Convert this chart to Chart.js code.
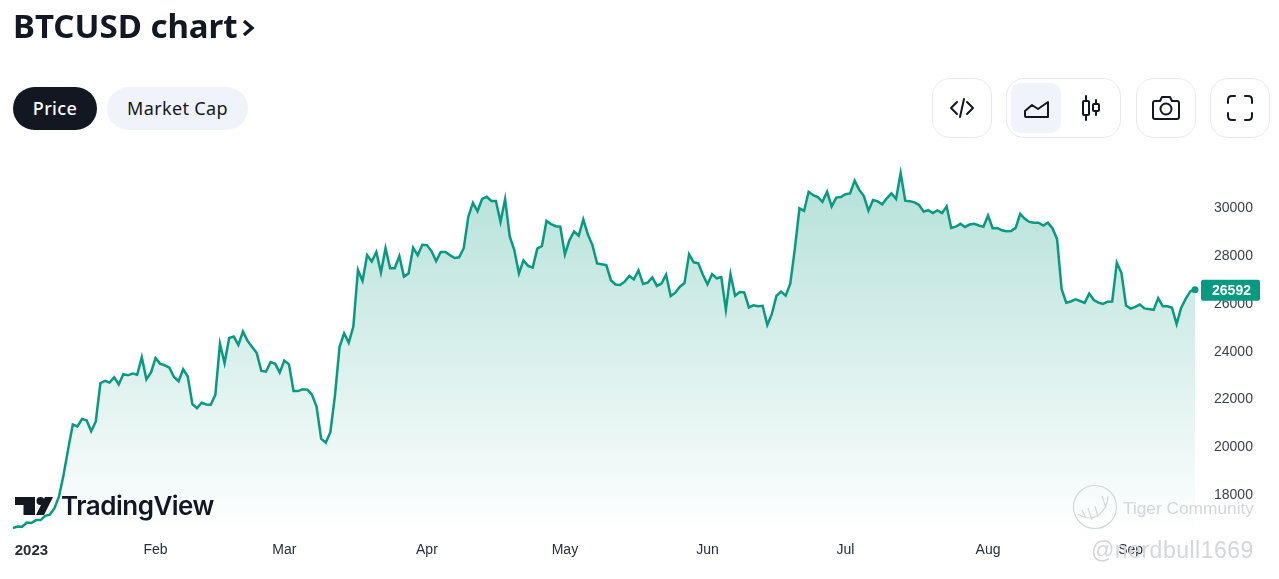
<!DOCTYPE html>
<html>
<head>
<meta charset="utf-8">
<title>BTCUSD chart</title>
<script src="https://cdn.jsdelivr.net/npm/chart.js@4/dist/chart.umd.min.js"></script>
<style>
    html, body { margin: 0; padding: 0; background: #fff; overflow: hidden; }
    #page { position: relative; width: 1279px; height: 579px; font-family: "Noto Sans", sans-serif; color: #131722; }
    #btcChart { position: absolute; left: 0; top: 0; }
    .title { position: absolute; left: 13px; top: 3px; font-size: 33px; font-weight: 700; line-height: 45px; white-space: nowrap; }
    .pill { position: absolute; top: 87px; height: 43px; line-height: 42px; border-radius: 22px; text-align: center; font-size: 18px; letter-spacing: 0.35px; }
    .pill-on { left: 13px; width: 84px; background: #131722; color: #fff; font-weight: 500; }
    .pill-off { left: 107px; width: 141px; background: #f0f3fa; }
    .btn { position: absolute; top: 78px; height: 58px; border: 1px solid #e6e8ee; border-radius: 18px; background: #fff; box-sizing: content-box; }
    .btn svg { position: absolute; fill: none; stroke: #131722; stroke-width: 2; stroke-linecap: round; stroke-linejoin: round; }
    .active-type { position: absolute; left: 4px; top: 4px; width: 50px; height: 50px; border-radius: 10px; background: #f0f3fa; }
    .tv-logo { position: absolute; left: 15px; top: 490px; }
    .tv-text { position: absolute; left: 61px; top: 487px; font-family: Inter, sans-serif; font-size: 26px; font-weight: 600; letter-spacing: -0.5px; line-height: 38px; }
    .mark { position: absolute; color: #d4d6da; white-space: nowrap; font-family: "Liberation Sans", sans-serif; }
</style>
</head>
<body>
<div id="page">
    <canvas id="btcChart" width="1279" height="579"></canvas>

    <div class="title">BTCUSD chart<svg width="13" height="24" viewBox="0 0 13 24" style="margin-left:4px;vertical-align:-2px"><path d="M2 5 L10 12 L2 19" fill="none" stroke="#131722" stroke-width="3.4"/></svg></div>
    <div class="pill pill-on">Price</div>
    <div class="pill pill-off">Market Cap</div>

    <div class="btn" style="left:932px;width:58px">
        <svg width="28" height="24" style="left:15px;top:17px" viewBox="0 0 28 24"><path d="M9 6 L3 12 L9 18 M19 6 L25 12 L19 18 M16 3 L12 21"/></svg>
    </div>
    <div class="btn" style="left:1006px;width:113px">
        <div class="active-type"></div>
        <svg width="28" height="20" style="left:15px;top:20px" viewBox="0 0 28 20"><path d="M3 12 L10 6 L16 10 L26 3 V18 H4 Q3 18 3 17 Z"/></svg>
        <svg width="22" height="26" style="left:73px;top:16px" viewBox="0 0 22 26"><path d="M6 1 V6 M6 20 V25 M16 5 V9 M16 16 V20"/><rect x="3" y="6" width="6" height="14" rx="1"/><rect x="13" y="9" width="6" height="7" rx="1"/></svg>
    </div>
    <div class="btn" style="left:1136px;width:58px">
        <svg width="30" height="26" style="left:14px;top:16px" viewBox="0 0 30 26"><path d="M4 6 H9 L11 2 H19 L21 6 H26 Q28 6 28 8 V22 Q28 24 26 24 H4 Q2 24 2 22 V8 Q2 6 4 6 Z"/><circle cx="15" cy="14" r="5.5"/></svg>
    </div>
    <div class="btn" style="left:1210px;width:58px">
        <svg width="28" height="28" style="left:15px;top:15px" viewBox="0 0 28 28"><path d="M2 9 V6 Q2 2 6 2 H9 M19 2 H22 Q26 2 26 6 V9 M26 19 V22 Q26 26 22 26 H19 M9 26 H6 Q2 26 2 22 V19"/></svg>
    </div>

    <svg class="tv-logo" width="40" height="28" viewBox="0 0 40 28" fill="#131722">
        <path d="M0 7 H20 V25 H8.5 V15 H0 Z"/><circle cx="25.5" cy="11" r="4"/><path d="M30 7 H38 L29 25 H21 Z"/>
    </svg>
    <div class="tv-text">TradingView</div>

    <svg style="position:absolute;left:1072px;top:484px" width="46" height="46" viewBox="0 0 46 46" fill="none" stroke="#d4d6da" stroke-width="1.2">
        <circle cx="23" cy="23" r="21.5"/><path d="M6 30 Q18 38 28 30 Q36 22 36 12 M10 26 L14 34 M16 24 L20 36 M23 22 L26 33 M30 12 L34 24"/>
    </svg>
    <div class="mark" style="left:1123px;top:498px;font-size:17.3px">Tiger Community</div>
    <div class="mark" style="left:1091px;top:537px;font-size:23px;letter-spacing:0.5px">@nerdbull1669</div>
</div>

<script>
// daily closes, one list per month
const janPrices = [16620, 16680, 16670, 16850, 16830, 16950, 16950, 17130, 17180, 17440, 17940, 18850, 19930, 20950, 20870, 21180, 21130, 20670, 21080, 22680, 22780, 22710, 22930, 22630, 23060, 23010, 23080, 23030, 23770, 22840, 23130];
const febPrices = [23730, 23490, 23430, 23330, 22940, 22760, 23260, 22960, 21800, 21630, 21860, 21790, 21780, 22200, 24330, 23520, 24570, 24630, 24280, 24840, 24450, 24190, 23940, 23190, 23160, 23560, 23490, 23130];
const marPrices = [23630, 23470, 22350, 22350, 22430, 22410, 22200, 21700, 20360, 20190, 20630, 22160, 24200, 24770, 24370, 25050, 27420, 26960, 28040, 27770, 28170, 27310, 28330, 27490, 27490, 28000, 27140, 27270, 28350, 28030, 28470];
const aprPrices = [28460, 28200, 27790, 28170, 28170, 28040, 27920, 27950, 28330, 29650, 30230, 29880, 30390, 30480, 30310, 30310, 29430, 30390, 28820, 28250, 27270, 27820, 27590, 27520, 28310, 28420, 29470, 29340, 29250, 29230];
const mayPrices = [28070, 28670, 29030, 28850, 29530, 28900, 28450, 27690, 27660, 27620, 26990, 26810, 26790, 26930, 27170, 27030, 27400, 26830, 26890, 27110, 26750, 26850, 27220, 26330, 26470, 26720, 26870, 28080, 27740, 27700, 27220];
const junPrices = [26820, 27250, 27070, 27120, 25760, 27240, 26340, 26500, 26480, 25850, 25940, 25900, 25920, 25120, 25580, 26340, 26510, 26340, 26840, 28310, 30000, 29890, 30690, 30550, 30470, 30270, 30690, 30080, 30450, 30470];
const julPrices = [30590, 30620, 31160, 30770, 30510, 29900, 30350, 30290, 30170, 30420, 30620, 30390, 31470, 30320, 30300, 30250, 30140, 29860, 29920, 29800, 29910, 29800, 30080, 29180, 29230, 29350, 29220, 29320, 29350, 29280, 29230];
const augPrices = [29700, 29170, 29180, 29080, 29040, 29050, 29180, 29770, 29560, 29430, 29400, 29400, 29280, 29400, 29170, 28720, 26620, 26050, 26100, 26190, 26120, 26040, 26430, 26160, 26050, 26000, 26090, 26100, 27720, 27300, 25930];
const sepPrices = [25800, 25870, 25970, 25810, 25780, 25750, 26240, 25900, 25900, 25840, 25150, 25840, 26220, 26530, 26592];

const prices = [...janPrices, ...febPrices, ...marPrices, ...aprPrices, ...mayPrices, ...junPrices, ...julPrices, ...augPrices, ...sepPrices];
const lastPrice = prices[prices.length - 1];

const monthLabels = ['2023', 'Feb', 'Mar', 'Apr', 'May', 'Jun', 'Jul', 'Aug', 'Sep'];
const monthTickIndexes = [4, 31, 59, 90, 120, 151, 181, 212, 243];
const priceTicks = [18000, 20000, 22000, 24000, 26000, 28000, 30000];

const lineColor = '#089981';
const axisFont = '"Liberation Sans", sans-serif';

const dayLabels = prices.map((p, i) => {
    const monthPos = monthTickIndexes.indexOf(i);
    return monthPos >= 0 ? monthLabels[monthPos] : '';
});

function areaGradient(context) {
    const { ctx, chartArea } = context.chart;
    if (!chartArea) return 'transparent';
    const gradient = ctx.createLinearGradient(0, 171, 0, chartArea.bottom);
    gradient.addColorStop(0, 'rgba(8,153,129,0.3)');
    gradient.addColorStop(1, 'rgba(8,153,129,0)');
    return gradient;
}

// green box with the last price, sits on top of the axis labels
const lastPriceTag = {
    id: 'lastPriceTag',
    afterDraw(chart) {
        const { ctx, scales } = chart;
        const y = scales.y.getPixelForValue(lastPrice);
        ctx.save();
        ctx.fillStyle = lineColor;
        ctx.beginPath();
        ctx.roundRect(1201, y - 10, 59, 21, 2);
        ctx.fill();
        ctx.fillStyle = '#fff';
        ctx.font = '700 14px ' + axisFont;
        ctx.textAlign = 'center';
        ctx.textBaseline = 'middle';
        ctx.fillText(String(lastPrice), 1231.5, y + 1);
        ctx.restore();
    }
};

new Chart(document.getElementById('btcChart'), {
    type: 'line',
    data: {
        labels: dayLabels,
        datasets: [{
            data: prices,
            borderColor: lineColor,
            borderWidth: 2.5,
            backgroundColor: areaGradient,
            fill: 'start',
            tension: 0,
            clip: false,
            pointRadius: ctx => ctx.dataIndex === prices.length - 1 ? 3.5 : 0,
            pointBackgroundColor: lineColor,
            pointBorderWidth: 0
        }]
    },
    options: {
        responsive: false,
        animation: false,
        layout: { padding: { left: 13, top: 161, right: 0, bottom: 0 } },
        plugins: { legend: { display: false }, tooltip: { enabled: false } },
        scales: {
            x: {
                offset: false,
                grid: { display: false, drawTicks: false },
                border: { display: false },
                afterFit: scale => { scale.height = 43; },
                ticks: {
                    autoSkip: false,
                    maxRotation: 0,
                    padding: 6,
                    color: '#2a2e39',
                    font: ctx => ({ family: axisFont, size: ctx.tick && ctx.tick.label === '2023' ? 15 : 14, weight: ctx.tick && ctx.tick.label === '2023' ? '700' : '400' })
                }
            },
            y: {
                position: 'right',
                min: 16284,
                max: 31980,
                grid: { display: false, drawTicks: false },
                border: { display: false },
                afterFit: scale => { scale.width = 84; },
                afterBuildTicks: scale => { scale.ticks = priceTicks.map(v => ({ value: v })); },
                ticks: {
                    padding: 19,
                    color: '#3c3f48',
                    font: { family: axisFont, size: 14 },
                    callback: v => String(v)
                }
            }
        }
    },
    plugins: [lastPriceTag]
});
</script>
</body>
</html>
